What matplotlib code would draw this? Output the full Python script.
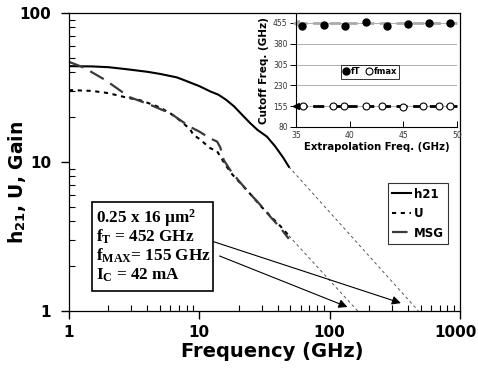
import matplotlib
matplotlib.use("Agg")
import matplotlib.pyplot as plt
from matplotlib.patches import Rectangle
import matplotlib.transforms as mtransforms
import matplotlib.ticker as mticker

plt.rcParams['mathtext.fontset'] = 'custom'
plt.rcParams['mathtext.rm'] = 'Liberation Serif:bold'
plt.rcParams['mathtext.it'] = 'Liberation Serif:bold'
plt.rcParams['mathtext.bf'] = 'Liberation Serif:bold'
plt.rcParams['mathtext.sf'] = 'DejaVu Sans:bold'

# ---------------- data (main chart) ----------------
f_h21 = [1, 1.5, 2, 2.8, 4, 5, 6.7, 7.6, 10, 12.2, 14, 16, 18.4, 21, 24.6, 28, 33, 38, 44, 48.6]
h21 = [44, 43.8, 43.3, 41.9, 40.3, 39, 37, 35.5, 32.3, 29.7, 28.3, 26.2, 23.7, 21.0, 18.2, 16.4, 14.8, 12.8, 10.7, 9.3]

f_U = [1, 1.5, 2, 2.8, 3.5, 4.2, 5, 6, 7, 8.5, 9.0, 10, 12.1, 13.7, 15.8, 18, 21, 24.6, 30, 35, 42, 48.6]
U = [30.4, 30, 29, 27, 26, 24.6, 23.2, 21.2, 19.2, 16.6, 15.2, 14.3, 12.4, 11.8, 9.6, 8.2, 7.1, 6.1, 5.0, 4.35, 3.7, 3.2]

f_msg = [1, 1.3, 1.9, 2.9, 4.2, 6, 8.5, 10, 12.1, 13.7, 14.5, 15.4, 17.3, 20, 24.6, 30, 35, 42, 48.6]
msg = [47, 43, 35.5, 27.3, 24.2, 21.2, 17.2, 16.0, 14.4, 13.7, 12.5, 10.3, 8.8, 7.5, 6.1, 5.05, 4.3, 3.6, 3.05]

# extrapolation lines (-20 dB/dec) as drawn
ext_h21_f = [48.6, 480]
ext_h21_g = [9.3, 1.0]
ext_U_f = [48.6, 164]
ext_U_g = [3.2, 1.0]

# annotation arrows (start -> head)
arrow_fT = [(10.2, 3.12), (352, 1.13)]
arrow_fmax = [(14.3, 2.34), (137, 1.064)]

box_lines = ["0.25 x 16 \u00b5m$^\\mathrm{2}$",
             "f$_\\mathrm{T}$ = 452 GHz",
             "f$_\\mathrm{MAX}$= 155 GHz",
             "I$_\\mathrm{C}$ = 42 mA"]

x_ticks = [1, 10, 100, 1000]
y_ticks = [1, 10, 100]

# ---------------- data (inset) ----------------
ext_fT = [35.55, 37.6, 39.55, 41.5, 43.5, 45.45, 47.4, 49.35]
fT_vals = [442, 448, 445, 459, 445, 451, 455, 455]
ext_fmax = [35.65, 38.45, 39.5, 41.5, 43.0, 45.0, 46.85, 48.3, 49.35]
fmax_vals = [157, 156, 155, 155, 155, 153, 156, 155, 155]
fT_avg = 455
fmax_avg = 155
inset_yticks = [80, 155, 230, 305, 380, 455]
inset_xticks = [35, 40, 45, 50]

W, H = 478, 375
fig = plt.figure(figsize=(W / 100, H / 100), dpi=100)
ax = fig.add_axes([69 / W, 1 - 311 / H, 391 / W, 298 / H])
ax.set_xscale('log')
ax.set_yscale('log')
ax.set_xlim(1, 1000)
ax.set_ylim(1, 100)

ax.plot(ext_h21_f, ext_h21_g, color='#555555', lw=0.7, ls=(0, (3, 3)))
ax.plot(ext_U_f, ext_U_g, color='#555555', lw=0.7, ls=(0, (3, 3)))
l1, = ax.plot(f_h21, h21, color='black', lw=1.5)
l2, = ax.plot(f_U, U, color='black', lw=1.5, ls=(0, (2, 2.2)))
l3, = ax.plot(f_msg, msg, color='#3a3a3a', lw=1.6, ls=(0, (7, 3.5)))

for (s, e) in [arrow_fT, arrow_fmax]:
    ax.annotate('', xy=e, xytext=s,
                arrowprops=dict(arrowstyle='-|>', color='black', lw=0.8,
                                mutation_scale=13, shrinkA=0, shrinkB=0))

# text box
bx0, bx1 = (92 - 69) / 391, (213 - 69) / 391
by0, by1 = (311 - 291) / 298, (311 - 202) / 298
ax.add_patch(Rectangle((bx0, by0), bx1 - bx0, by1 - by0, transform=ax.transAxes,
                       facecolor='white', edgecolor='black', lw=1.2, zorder=5))
for i, t in enumerate(box_lines):
    yy = (311 - (218 + 19 * i)) / 298
    ax.text((96 - 69) / 391, yy, t, transform=ax.transAxes, ha='left', va='center',
            fontfamily='Liberation Serif', fontweight='bold', fontsize=12.3, zorder=6)

ax.set_xticks(x_ticks)
ax.set_xticklabels([str(v) for v in x_ticks])
ax.set_yticks(y_ticks)
ax.set_yticklabels([str(v) for v in y_ticks])
ax.tick_params(which='major', direction='out', length=6, width=1, labelsize=11)
ax.tick_params(axis='x', which='major', pad=4)
ax.tick_params(axis='y', which='major', pad=7)
ax.tick_params(which='minor', direction='in', length=4, width=0.8)
ax.xaxis.set_minor_formatter(mticker.NullFormatter())
ax.yaxis.set_minor_formatter(mticker.NullFormatter())
for lab in ax.get_xticklabels() + ax.get_yticklabels():
    lab.set_fontweight('bold')
    lab.set_fontfamily('DejaVu Sans')
last = ax.get_xticklabels()[-1]
last.set_transform(last.get_transform() + mtransforms.ScaledTranslation(-4 / 100, 0, fig.dpi_scale_trans))
for sp in ax.spines.values():
    sp.set_linewidth(0.9)

ax.set_xlabel('Frequency (GHz)', fontfamily='DejaVu Sans', fontweight='bold', fontsize=14)
ax.xaxis.set_label_coords(0.52, -0.105)
ax.set_ylabel('h$_{\\mathsf{21}}$, U, Gain', fontfamily='DejaVu Sans', fontweight='bold', fontsize=13.5)
ax.yaxis.set_label_coords(-0.105, 0.43)

leg = ax.legend([l1, l2, l3], ['h21', 'U', 'MSG'], loc='upper right',
                bbox_to_anchor=(0.985, 0.448), frameon=True, fancybox=False,
                edgecolor='black', handlelength=1.6, handletextpad=0.3,
                labelspacing=0.55, borderpad=0.35,
                prop=dict(family='DejaVu Sans', weight='bold', size=8.5))
leg.get_frame().set_linewidth(0.8)

# ---------------- inset ----------------
ins = fig.add_axes([296 / W, 1 - 127 / H, 161 / W, 113 / H])
ins.set_facecolor('none')
ins.set_xlim(35, 50)
ins.set_ylim(80, 487)
ins.set_yticks(inset_yticks)
ins.set_xticks(inset_xticks)
ins.grid(axis='y', color='#b0b0b0', lw=0.7)
ins.set_axisbelow(True)
for s in ['top', 'right']:
    ins.spines[s].set_visible(False)
ins.spines['left'].set_linewidth(0.8)
ins.spines['bottom'].set_linewidth(0.8)
ins.tick_params(axis='y', direction='out', length=4, width=0.7, pad=2,
                labelsize=5.5, labelcolor='#333333')
ins.tick_params(axis='x', direction='in', length=4, width=0.7, pad=3,
                labelsize=5.5, labelcolor='#333333')

ins.plot([35, 50], [fT_avg, fT_avg], color='#aaaaaa', lw=2, ls=(0, (4, 2)),
         marker='<', markevery=[0], markersize=5, clip_on=False)
ins.plot([35, 50], [fmax_avg, fmax_avg], color='black', lw=2, ls=(0, (4, 2)),
         marker='<', markevery=[0], markersize=5, clip_on=False)
p1, = ins.plot(ext_fT, fT_vals, ls='none', marker='o', markersize=5,
               markerfacecolor='black', markeredgecolor='black', clip_on=False)
p2, = ins.plot(ext_fmax, fmax_vals, ls='none', marker='o', markersize=5,
               markerfacecolor='white', markeredgecolor='black', markeredgewidth=0.8,
               clip_on=False)
il = ins.legend([p1, p2], ['fT', 'fmax'], loc='center', bbox_to_anchor=(0.46, 0.49),
                ncol=2, frameon=True, fancybox=False, edgecolor='black',
                handlelength=0.6, handletextpad=0.3, columnspacing=0.7,
                borderpad=0.3, prop=dict(family='DejaVu Sans', weight='bold', size=6))
il.get_frame().set_linewidth(0.7)

ins.set_xlabel('Extrapolation Freq. (GHz)', fontfamily='DejaVu Sans', fontweight='bold',
               fontsize=7.3, labelpad=1)
ins.set_ylabel('Cutoff Freq. (GHz)', fontfamily='DejaVu Sans', fontweight='bold',
               fontsize=7.5, labelpad=3)

fig.savefig('out.png', dpi=100)
